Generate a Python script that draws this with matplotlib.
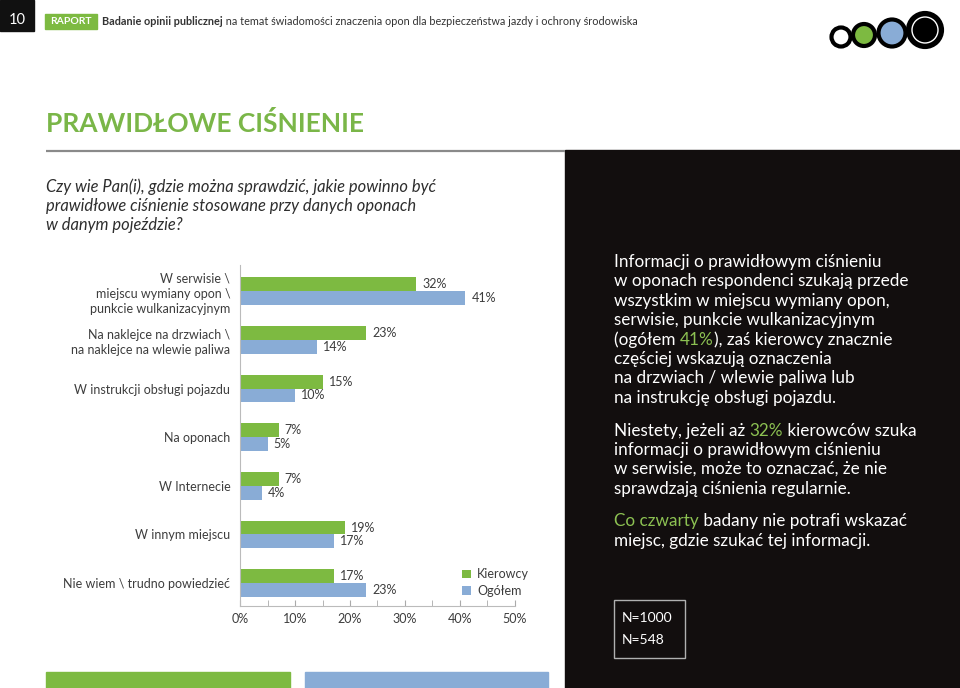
import matplotlib
matplotlib.use("Agg")
import matplotlib.pyplot as plt
from matplotlib.patches import Rectangle, Circle
import numpy as np

plt.rcParams['font.family'] = ['Lato', 'DejaVu Sans']

# data
categories = [
    "W serwisie \\\nmiejscu wymiany opon \\\npunkcie wulkanizacyjnym",
    "Na naklejce na drzwiach \\\nna naklejce na wlewie paliwa",
    "W instrukcji obsługi pojazdu",
    "Na oponach",
    "W Internecie",
    "W innym miejscu",
    "Nie wiem \\ trudno powiedzieć",
]
kierowcy = [32, 23, 15, 7, 7, 19, 17]
ogolem = [41, 14, 10, 5, 4, 17, 23]
series_names = ["Kierowcy", "Ogółem"]
xticks = [0, 10, 20, 30, 40, 50]

GREEN = "#7dba41"
BLUE = "#89acd6"
DARK = "#120e0e"
TXT = "#3d3d3d"

W, H = 960, 688
fig = plt.figure(figsize=(W / 100, H / 100), dpi=100)
fig.patch.set_facecolor("white")

# background axes in pixel coordinates
bg = fig.add_axes([0, 0, 1, 1])
bg.set_xlim(0, W)
bg.set_ylim(H, 0)
bg.axis("off")

# header
bg.add_patch(Rectangle((0, 0), 34, 31, color="#111111"))
bg.text(17, 20, "10", color="white", fontsize=10.5, ha="center", va="center")
bg.add_patch(Rectangle((45, 14), 52, 15, color=GREEN))
bg.text(71, 21.5, "RAPORT", color="white", fontsize=7.5, fontweight="bold",
        ha="center", va="center")
r = fig.canvas.get_renderer()


def text_width(s, **kw):
    t = bg.text(0, 0, s + "|", **kw)
    t2 = bg.text(0, 0, "|", **kw)
    w = t.get_window_extent(renderer=r).width - t2.get_window_extent(renderer=r).width
    t.remove()
    t2.remove()
    return w


def rich_line(x, y, parts, **kw):
    # each part drawn right after the previous one
    for s, c, extra in parts:
        opts = dict(kw)
        opts.update(extra)
        bg.text(x, y, s, color=c, va="center", **opts)
        x += text_width(s, **opts)


rich_line(102, 21.5, [("Badanie opinii publicznej", "#333333", {"fontweight": "bold"}),
                      (" na temat świadomości znaczenia opon dla bezpieczeństwa jazdy i ochrony środowiska",
                       "#333333", {})], fontsize=7.85)

# logo circles
bg.add_patch(Circle((841, 37), 9.5, facecolor="white", edgecolor="black", lw=3))
bg.add_patch(Circle((864, 35), 11, facecolor=GREEN, edgecolor="black", lw=3))
bg.add_patch(Circle((892, 33), 13.5, facecolor=BLUE, edgecolor="black", lw=3))
bg.add_patch(Circle((925, 30), 17, facecolor="black", edgecolor="black", lw=3))
bg.add_patch(Circle((925, 30), 13, facecolor="none", edgecolor="white", lw=1))

# title and question
bg.text(46, 123, "PRAWIDŁOWE CIŚNIENIE", color="#7ab648", fontsize=19,
        fontweight="bold", va="center")
bg.plot([46, 565], [150.5, 150.5], color="#8a8a8a", lw=1.6, solid_capstyle="butt")
for i, line in enumerate(["Czy wie Pan(i), gdzie można sprawdzić, jakie powinno być",
                          "prawidłowe ciśnienie stosowane przy danych oponach",
                          "w danym pojeździe?"]):
    bg.text(46, 187 + i * 19, line, color="#2e2e2e", fontsize=11.9,
            style="italic", va="center")

# right panel
bg.add_patch(Rectangle((565, 150), W - 565, H - 150, color=DARK))
WH = "white"
LG = "#8cc152"
panel = [
    (262, [("Informacji o prawidłowym ciśnieniu", WH)]),
    (281, [("w oponach respondenci szukają przede", WH)]),
    (301, [("wszystkim w miejscu wymiany opon,", WH)]),
    (320, [("serwisie, punkcie wulkanizacyjnym", WH)]),
    (340, [("(ogółem ", WH), ("41%", LG), ("), zaś kierowcy znacznie", WH)]),
    (359, [("częściej wskazują oznaczenia", WH)]),
    (378, [("na drzwiach / wlewie paliwa lub", WH)]),
    (398, [("na instrukcję obsługi pojazdu.", WH)]),
    (431, [("Niestety, jeżeli aż ", WH), ("32%", LG), (" kierowców szuka", WH)]),
    (450, [("informacji o prawidłowym ciśnieniu", WH)]),
    (469, [("w serwisie, może to oznaczać, że nie", WH)]),
    (489, [("sprawdzają ciśnienia regularnie.", WH)]),
    (521, [("Co czwarty", LG), (" badany nie potrafi wskazać", WH)]),
    (541, [("miejsc, gdzie szukać tej informacji.", WH)]),
]
for y, parts in panel:
    rich_line(614, y, [(s, c, {}) for s, c in parts], fontsize=12.3)

bg.add_patch(Rectangle((614, 600), 71, 58, facecolor="none", edgecolor="#b0b0b0", lw=1))
bg.text(622, 618, "N=1000", color="white", fontsize=10, va="center")
bg.text(622, 640, "N=548", color="white", fontsize=10, va="center")

# bottom bars
bg.add_patch(Rectangle((46, 672), 244, 16, color=GREEN))
bg.add_patch(Rectangle((305, 672), 243, 16, color=BLUE))

# chart
ax = fig.add_axes([240 / W, 1 - 606 / H, 275 / W, 341 / H])
ax.set_facecolor("none")
y = np.arange(len(categories))
bh = 0.285
ax.barh(y - bh / 2, kierowcy, height=bh, color=GREEN, label=series_names[0])
ax.barh(y + bh / 2, ogolem, height=bh, color=BLUE, label=series_names[1])
for yi, v in zip(y, kierowcy):
    ax.text(v + 1.1, yi - bh / 2, f"{v}%", va="center", fontsize=9, color=TXT)
for yi, v in zip(y, ogolem):
    ax.text(v + 1.1, yi + bh / 2, f"{v}%", va="center", fontsize=9, color=TXT)

ax.set_xlim(0, 50)
ax.set_ylim(6.47, -0.54)
ax.set_yticks(y)
ax.set_yticklabels(categories, fontsize=9, color=TXT, multialignment="right",
                   linespacing=1.3)
ax.tick_params(axis="y", length=0, pad=7)
ax.set_xticks(xticks)
ax.set_xticklabels([f"{t}%" for t in xticks], fontsize=9, color=TXT)
ax.set_xticks(np.arange(0, 51, 5), minor=True)
ax.tick_params(axis="x", which="both", direction="in", length=4, color="#aaaaaa", pad=5)
for s in ["top", "right"]:
    ax.spines[s].set_visible(False)
ax.spines["left"].set_color("#bbbbbb")
ax.spines["bottom"].set_color("#bbbbbb")

ax.legend(loc="upper left", bbox_to_anchor=(0.79, 0.125), frameon=False, fontsize=9,
          handlelength=0.7, handleheight=0.7, handletextpad=0.5, labelspacing=0.35,
          borderaxespad=0, labelcolor=TXT)

fig.savefig("out.png", dpi=100)
